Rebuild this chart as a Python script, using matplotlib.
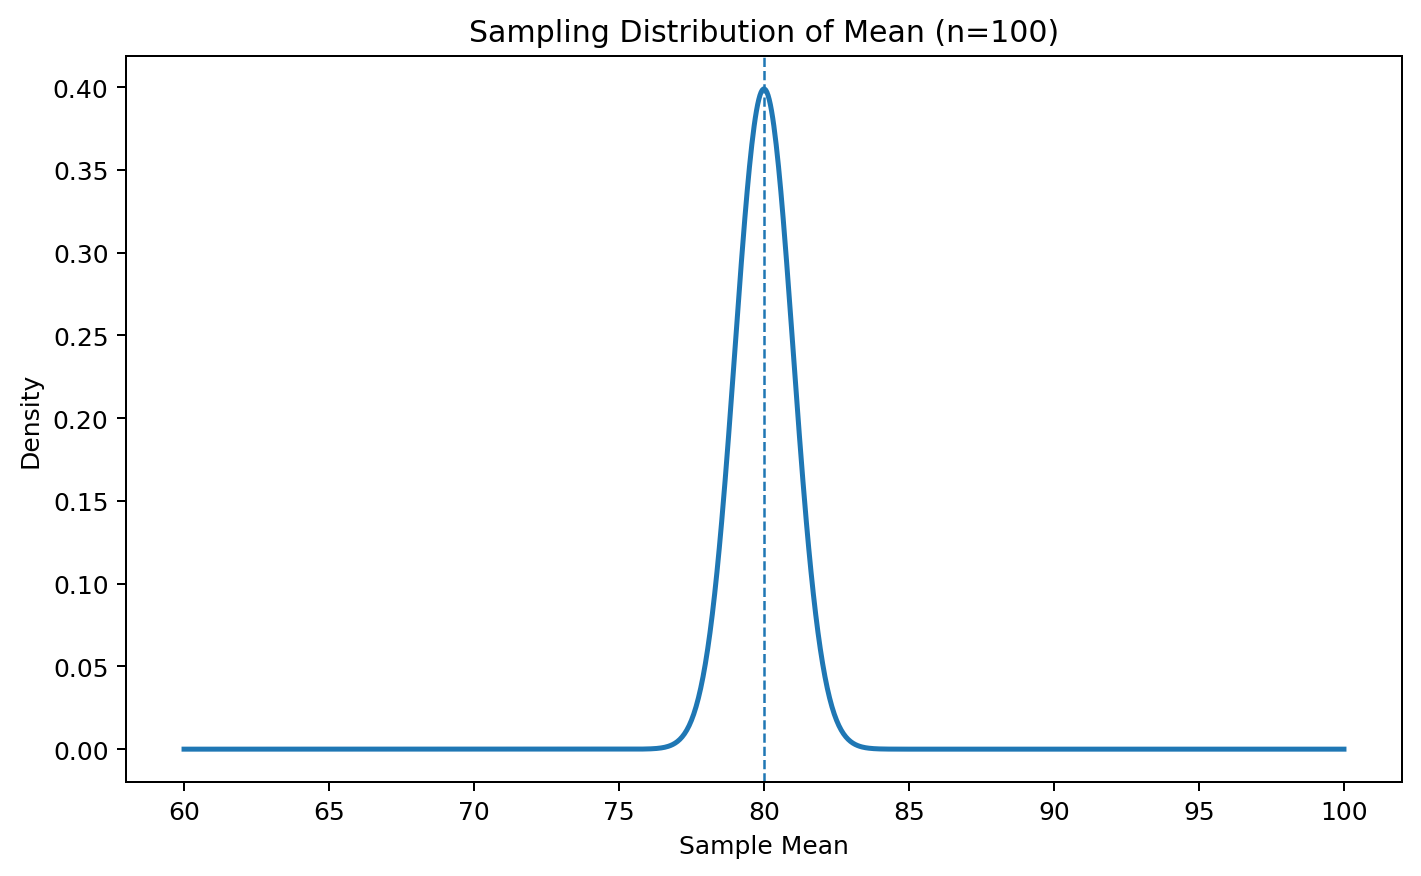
import numpy as np
import matplotlib.pyplot as plt

# Parameters of the sampling distribution shown
pop_mean = 80
pop_sd = 10
n = 100
x_range = [60, 100]

se = pop_sd / np.sqrt(n)
x = np.linspace(x_range[0], x_range[1], 1000)
density = np.exp(-0.5 * ((x - pop_mean) / se) ** 2) / (se * np.sqrt(2 * np.pi))

fig, ax = plt.subplots(figsize=(1421 / 180, 877 / 180), dpi=180)
fig.subplots_adjust(left=0.0887, right=0.9866, top=0.935, bottom=0.107)

ax.plot(x, density, linewidth=2)
ax.axvline(pop_mean, linestyle='--', linewidth=1)

ax.set_title(f"Sampling Distribution of Mean (n={n})")
ax.set_xlabel("Sample Mean")
ax.set_ylabel("Density")

plt.savefig("out.png", dpi=180)
